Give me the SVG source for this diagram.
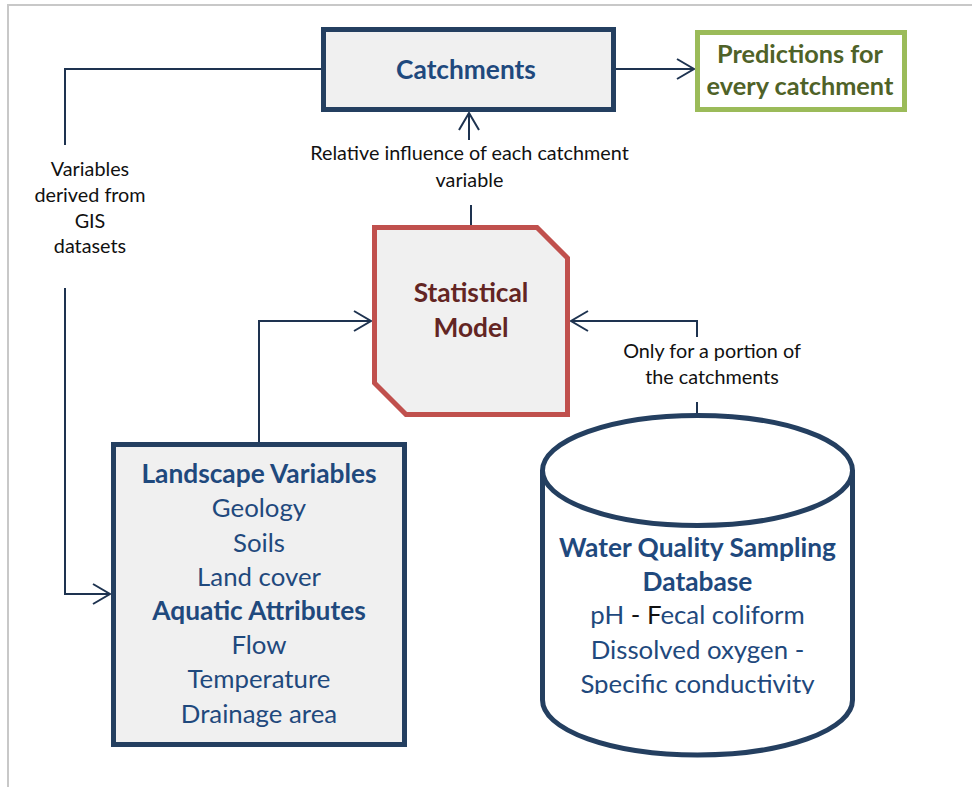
<svg xmlns="http://www.w3.org/2000/svg" width="972" height="787" viewBox="0 0 972 787">
<style>
  .frame{fill:none;stroke:#c8c8c8;stroke-width:2}
  .conn{fill:none;stroke:#1e3350;stroke-width:2}
  .lbl{font-family:Lato,"Liberation Sans",sans-serif;font-size:19.8px;fill:#111;text-anchor:middle}
  .big{font-family:Lato,"Liberation Sans",sans-serif;font-size:25.8px;text-anchor:middle}
  .b{font-weight:bold;font-size:26.3px}
  .navy{fill:#1f497d}
  .pred{font-size:25.3px;fill:#4f6228}
</style>
<defs>
  <marker id="arr" markerUnits="userSpaceOnUse" viewBox="-19 -12 21 24" refX="0" refY="0" markerWidth="21" markerHeight="24" orient="auto">
    <path d="M-17,-10 L0,0 L-17,10" fill="none" stroke="#1e3350" stroke-width="2"/>
  </marker>
  <clipPath id="cylclip"><rect x="540" y="400" width="320" height="294"/></clipPath>
</defs>
<rect width="972" height="787" fill="#fff"/>
<path class="frame" d="M8,787 V5 H972"/>

<g id="connectors">
  <path class="conn" d="M616,69 H694" marker-end="url(#arr)"/>
  <path class="conn" d="M321,69 H65 V145"/>
  <path class="conn" d="M65,288 V594 H110" marker-end="url(#arr)"/>
  <path class="conn" d="M471,227 V205"/>
  <path class="conn" d="M469,140 V113" marker-end="url(#arr)"/>
  <path class="conn" d="M259,442 V321 H371" marker-end="url(#arr)"/>
  <path class="conn" d="M697,413 V402"/>
  <path class="conn" d="M697,337 V321 H571" marker-end="url(#arr)"/>
  <g class="lbl">
    <text x="90" y="176">Variables</text>
    <text x="90" y="202">derived from</text>
    <text x="90" y="228">GIS</text>
    <text x="90" y="253">datasets</text>
    <text x="469.5" y="160">Relative influence of each catchment</text>
    <text x="469.5" y="187">variable</text>
    <text x="712" y="358">Only for a portion of</text>
    <text x="712" y="384">the catchments</text>
  </g>
</g>

<g id="catchments">
  <rect x="323.5" y="29.5" width="290" height="80" fill="#f0f0f0" stroke="#243f60" stroke-width="5"/>
  <text class="big b navy" x="466" y="79">Catchments</text>
</g>

<g id="predictions">
  <rect x="697.5" y="32.5" width="207" height="77" fill="#fff" stroke="#9bbb59" stroke-width="5"/>
  <text class="big b pred" x="800" y="63">Predictions for</text>
  <text class="big b pred" x="800" y="95">every catchment</text>
</g>

<g id="statistical-model">
  <path d="M374.5,227.5 H537 L567.5,258 V414.5 H406 L374.5,383 Z" fill="#f0f0f0" stroke="#c0504d" stroke-width="5"/>
  <text class="big b" fill="#632523" x="471" y="302">Statistical</text>
  <text class="big b" fill="#632523" x="471" y="337">Model</text>
</g>

<g id="landscape-variables">
  <rect x="113.5" y="444.5" width="291" height="300" fill="#f0f0f0" stroke="#243f60" stroke-width="5"/>
  <g class="big navy">
    <text class="b" x="259" y="483">Landscape Variables</text>
    <text x="259" y="517">Geology</text>
    <text x="259" y="552">Soils</text>
    <text x="259" y="586">Land cover</text>
    <text class="b" x="259" y="620">Aquatic Attributes</text>
    <text x="259" y="654">Flow</text>
    <text x="259" y="688">Temperature</text>
    <text x="259" y="723">Drainage area</text>
  </g>
</g>

<g id="water-quality-database">
  <path d="M542.5,470.5 A155,55 0 0 1 852.5,470.5 V700 A155,55 0 0 1 542.5,700 Z" fill="#fff" stroke="#243f60" stroke-width="5"/>
  <path d="M542.5,470.5 A155,55 0 0 0 852.5,470.5" fill="none" stroke="#243f60" stroke-width="5"/>
  <g class="big navy" clip-path="url(#cylclip)">
    <text class="b" x="697.5" y="557">Water Quality Sampling</text>
    <text class="b" x="697.5" y="591">Database</text>
    <text x="697.5" y="624">pH <tspan fill="#111">- F</tspan>ecal coliform</text>
    <text x="697.5" y="658.5">Dissolved oxygen -</text>
    <text x="697.5" y="693">Specific conductivity</text>
  </g>
</g>
</svg>
